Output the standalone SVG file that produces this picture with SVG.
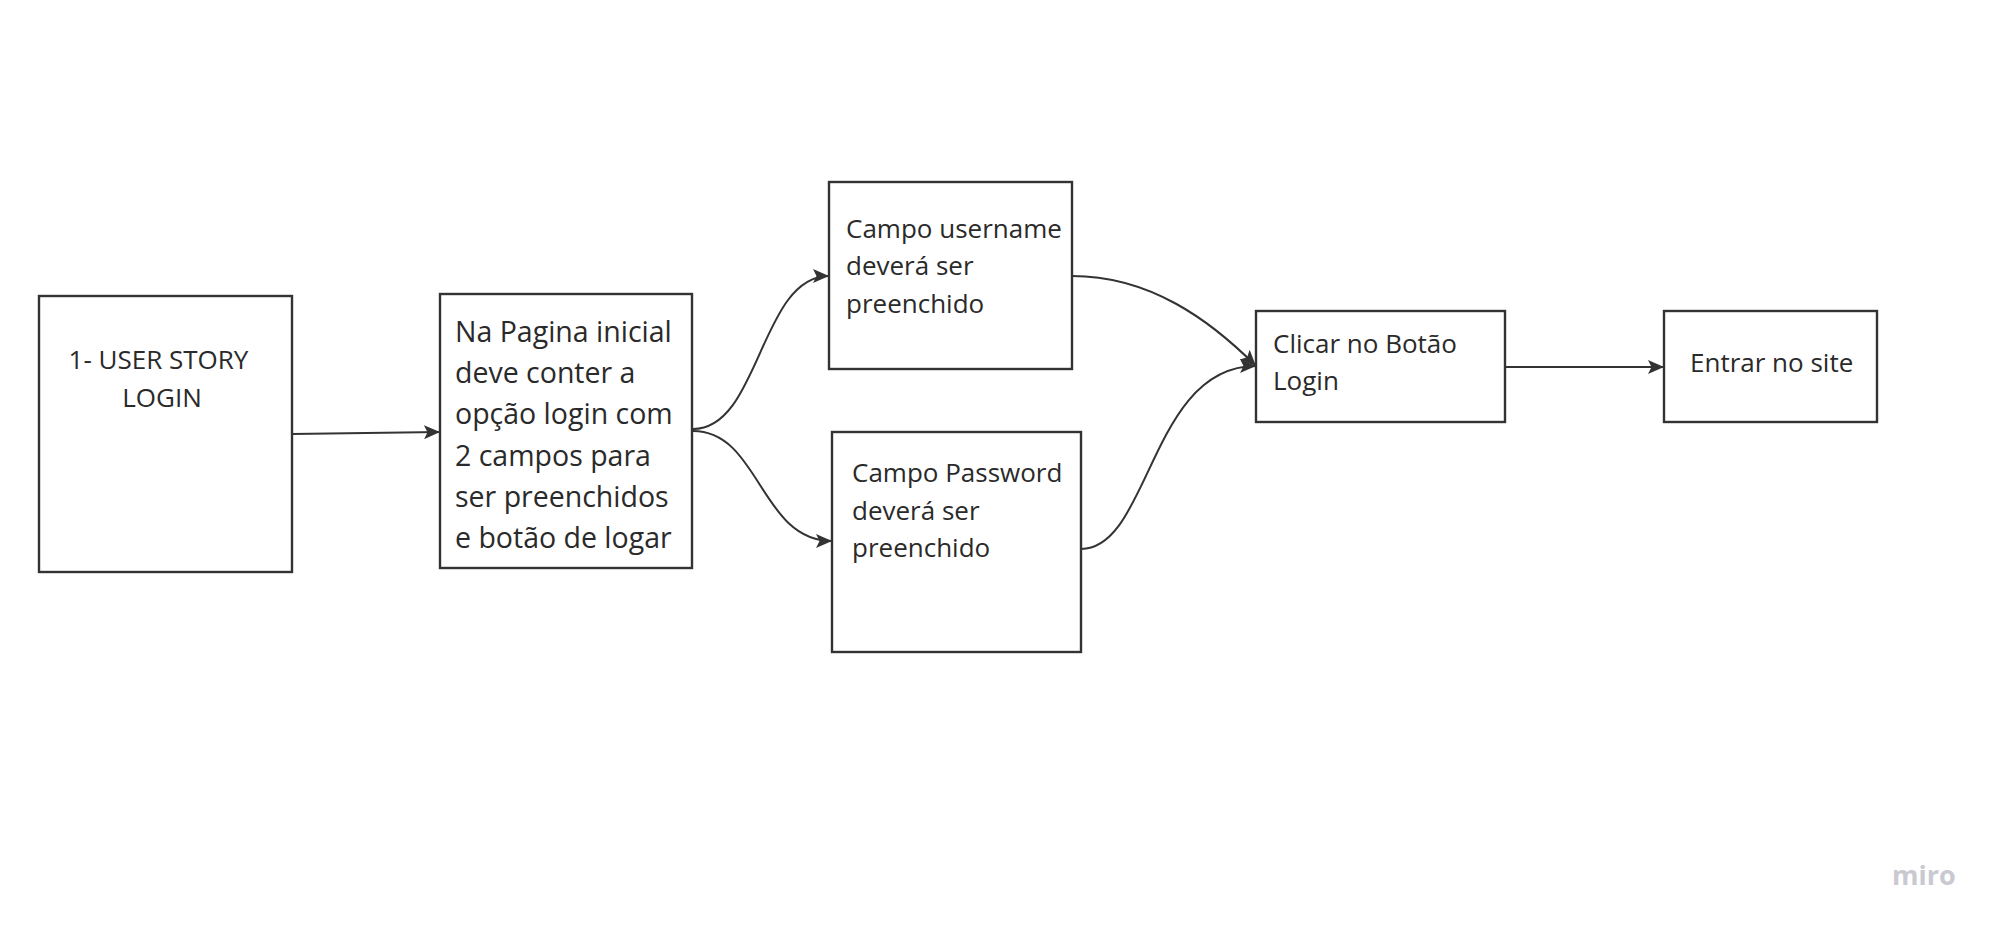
<svg xmlns="http://www.w3.org/2000/svg" width="2000" height="932" viewBox="0 0 2000 932">
  <style>
    .box { fill: #ffffff; stroke: #333333; stroke-width: 2.4; }
    .t { font-family: "Open Sans", "Noto Sans", "DejaVu Sans", sans-serif; font-size: 26px; fill: #2a2a2a; }
    .t2 { font-family: "Open Sans", "Noto Sans", "DejaVu Sans", sans-serif; font-size: 28.5px; fill: #2a2a2a; }
    .conn { fill: none; stroke: #333333; stroke-width: 2; marker-end: url(#arrow); }
    .wm { font-family: "Open Sans", "Noto Sans", sans-serif; font-size: 27px; font-weight: bold; fill: #c9c9d1; }
  </style>
  <defs>
    <marker id="arrow" viewBox="0 0 16 14" refX="16" refY="7" markerWidth="16" markerHeight="14" markerUnits="userSpaceOnUse" orient="auto">
      <path d="M0,0 L16,7 L0,14 L3.5,7 Z" fill="#333333"/>
    </marker>
  </defs>
  <rect width="2000" height="932" fill="#ffffff"/>

  <g id="connectors">
    <path class="conn" d="M292,434 L440,432"/>
    <path class="conn" d="M693,429 C760,429 760,276 829,276"/>
    <path class="conn" d="M693,431 C760,431 760,541 832,541"/>
    <path class="conn" d="M1072,276 C1150,276 1210,320 1256,366"/>
    <path class="conn" d="M1081,549 C1150,549 1150,366 1256,366"/>
    <path class="conn" d="M1505,367 L1664,367"/>
  </g>

  <g id="node-user-story">
    <rect class="box" x="39" y="296" width="253" height="276"/>
    <text class="t" x="158.5" y="369" text-anchor="middle" font-size="26.5">1- USER STORY</text>
    <text class="t" x="162" y="407" text-anchor="middle" font-size="26.5">LOGIN</text>
  </g>

  <g id="node-pagina-inicial">
    <rect class="box" x="440" y="294" width="252" height="274"/>
    <text class="t2" x="455" y="342">Na Pagina inicial</text>
    <text class="t2" x="455" y="383">deve conter a</text>
    <text class="t2" x="455" y="424">opção login com</text>
    <text class="t2" x="455" y="466">2 campos para</text>
    <text class="t2" x="455" y="507">ser preenchidos</text>
    <text class="t2" x="455" y="548">e botão de logar</text>
  </g>

  <g id="node-username">
    <rect class="box" x="829" y="182" width="243" height="187"/>
    <text class="t" x="846" y="238">Campo username</text>
    <text class="t" x="846" y="275">deverá ser</text>
    <text class="t" x="846" y="313">preenchido</text>
  </g>

  <g id="node-password">
    <rect class="box" x="832" y="432" width="249" height="220"/>
    <text class="t" x="852" y="482">Campo Password</text>
    <text class="t" x="852" y="520">deverá ser</text>
    <text class="t" x="852" y="557">preenchido</text>
  </g>

  <g id="node-clicar">
    <rect class="box" x="1256" y="311" width="249" height="111"/>
    <text class="t" x="1273" y="353">Clicar no Botão</text>
    <text class="t" x="1273" y="390">Login</text>
  </g>

  <g id="node-entrar">
    <rect class="box" x="1664" y="311" width="213" height="111"/>
    <text class="t" x="1690" y="372">Entrar no site</text>
  </g>

  <text class="wm" x="1892" y="885">miro</text>
</svg>
